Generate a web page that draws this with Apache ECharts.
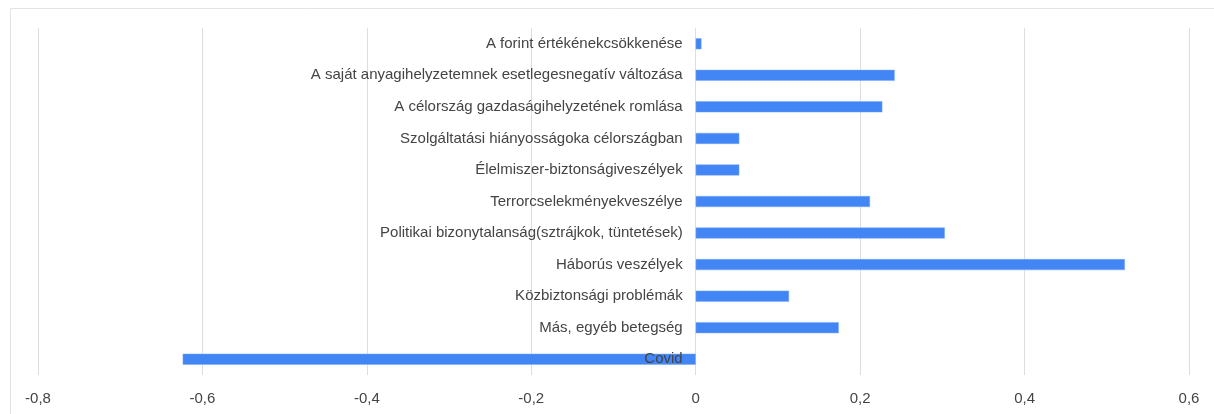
<!DOCTYPE html>
<html>
<head>
<meta charset="utf-8">
<script src="https://cdn.jsdelivr.net/npm/echarts@6/dist/echarts.min.js"></script>
<style>
html,body{margin:0;padding:0;background:#fff;}
#chart{width:1214px;height:414px;}
</style>
</head>
<body>
<div id="chart"></div>
<script>
const categories = [
  "A forint értékénekcsökkenése",
  "A saját anyagihelyzetemnek esetlegesnegatív változása",
  "A célország gazdaságihelyzetének romlása",
  "Szolgáltatási hiányosságoka célországban",
  "Élelmiszer-biztonságiveszélyek",
  "Terrorcselekményekveszélye",
  "Politikai bizonytalanság(sztrájkok, tüntetések)",
  "Háborús veszélyek",
  "Közbiztonsági problémák",
  "Más, egyéb betegség",
  "Covid"
];
const values = [0.007, 0.242, 0.227, 0.053, 0.053, 0.212, 0.303, 0.522, 0.1135, 0.174, -0.624];
const axisMin = -0.8, axisMax = 0.6, axisStep = 0.2;

const gridLeft = 38, gridRight = 25, chartWidth = 1214;
// place category axis at the zero of the value axis
const zeroOffset = -((0 - axisMin) / (axisMax - axisMin)) * (chartWidth - gridLeft - gridRight);

const chart = echarts.init(document.getElementById('chart'), null, {renderer: 'canvas'});
chart.setOption({
  animation: false,
  backgroundColor: '#ffffff',
  graphic: [{
    type: 'rect', left: 8, top: 6, silent: true, z: -10,
    shape: {width: 1300, height: 500},
    style: {fill: 'none', stroke: '#e3e3e3', lineWidth: 1}
  }],
  grid: {left: gridLeft, right: gridRight, top: 28, bottom: 39, containLabel: false, outerBoundsMode: 'none'},
  xAxis: {
    type: 'value', min: axisMin, max: axisMax, interval: axisStep,
    axisLine: {show: false}, axisTick: {show: false},
    splitLine: {lineStyle: {color: '#dedede', width: 1}},
    axisLabel: {
      color: '#444', fontSize: 15, fontFamily: 'Liberation Sans, Arial, sans-serif', margin: 16,
      formatter: v => (Math.abs(v) < 1e-9 ? '0' : (Math.round(v * 10) / 10).toString().replace('.', ','))
    }
  },
  yAxis: {
    type: 'category', data: categories, inverse: true, z: 10,
    offset: zeroOffset,
    axisLine: {show: false, onZero: false},
    axisTick: {show: false},
    splitLine: {show: false},
    axisLabel: {color: '#444', fontSize: 15, fontFamily: 'Liberation Sans, Arial, sans-serif', margin: 13}
  },
  series: [{
    type: 'bar', data: values, barWidth: 11,
    itemStyle: {color: '#4285f4', borderColor: '#7aa9f7', borderWidth: 0.5}
  }]
});
</script>
</body>
</html>
